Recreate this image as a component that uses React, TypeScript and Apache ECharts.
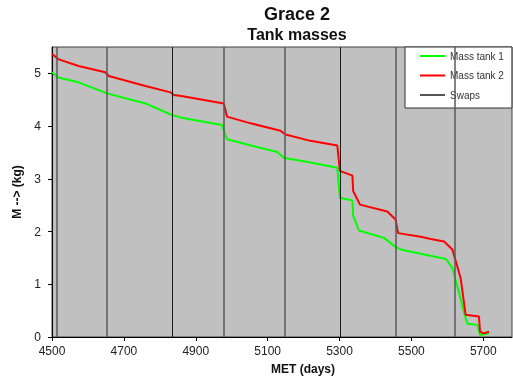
import React, { useEffect, useRef } from "react";
import * as echarts from "echarts";

const FONT = "'Liberation Sans', Arial, sans-serif";

const tank1Days = [4500, 4517, 4574, 4653, 4760, 4830, 4860, 4973, 4987, 5043, 5127, 5145, 5219, 5294, 5301, 5336, 5338, 5354, 5424, 5456, 5470, 5526, 5596, 5614, 5632, 5646, 5656, 5684, 5691, 5716];
const tank1Mass = [5.02, 4.92, 4.83, 4.62, 4.43, 4.22, 4.16, 4.02, 3.75, 3.65, 3.51, 3.4, 3.31, 3.21, 2.64, 2.59, 2.3, 2.02, 1.88, 1.71, 1.66, 1.58, 1.48, 1.31, 0.86, 0.48, 0.25, 0.23, 0.04, 0.07];

const tank2Days = [4500, 4517, 4574, 4648, 4658, 4760, 4830, 4839, 4860, 4978, 4987, 5043, 5136, 5150, 5219, 5294, 5301, 5336, 5338, 5357, 5433, 5456, 5463, 5526, 5554, 5591, 5614, 5637, 5651, 5688, 5691, 5702, 5716];
const tank2Mass = [5.37, 5.27, 5.14, 5.02, 4.95, 4.76, 4.64, 4.59, 4.57, 4.43, 4.18, 4.07, 3.91, 3.84, 3.72, 3.63, 3.15, 3.06, 2.77, 2.51, 2.38, 2.23, 1.97, 1.9, 1.86, 1.81, 1.66, 1.12, 0.42, 0.39, 0.1, 0.07, 0.1];

const swapDays = [4514, 4653, 4834, 4977, 5147, 5301, 5457, 5621];
const swapDark = [false, false, true, false, false, true, false, false];

export default function App() {
  const ref = useRef<HTMLDivElement>(null);
  useEffect(() => {
    if (!ref.current) return;
    const chart = echarts.init(ref.current, null, { renderer: "svg" });
    chart.setOption({
      animation: false,
      textStyle: { fontFamily: FONT },
      grid: {
        left: 52,
        right: 1,
        top: 47,
        bottom: 44,
        show: true,
        backgroundColor: "#c0c0c0",
        borderColor: "#404040",
        borderWidth: 1,
      },
      graphic: [
        {
          type: "text",
          x: 297,
          y: 13.5,
          style: { text: "Grace 2", font: `bold 18px ${FONT}`, fill: "#111", textAlign: "center", textVerticalAlign: "middle" },
        },
        {
          type: "text",
          x: 297,
          y: 34,
          style: { text: "Tank masses", font: `bold 16px ${FONT}`, fill: "#111", textAlign: "center", textVerticalAlign: "middle" },
        },
        {
          type: "text",
          x: 303,
          y: 369,
          style: { text: "MET (days)", font: `bold 12px ${FONT}`, fill: "#111", textAlign: "center", textVerticalAlign: "middle" },
        },
      ],
      legend: {
        orient: "vertical",
        left: 405,
        top: 47,
        data: [
          { name: "Mass tank 1" },
          { name: "Mass tank 2" },
          { name: "Swaps", itemStyle: { color: "#555" } },
        ],
        icon: "rect",
        backgroundColor: "#ffffff",
        borderColor: "#333",
        borderWidth: 1,
        borderRadius: 0,
        padding: [3, 8, 7, 15],
        itemGap: 7.5,
        itemWidth: 25,
        itemHeight: 2,
        textStyle: { fontSize: 10, color: "#333", fontFamily: FONT, lineHeight: 12 },
      },
      xAxis: {
        type: "value",
        min: 4500,
        max: 5780,
        interval: 200,
        splitLine: { show: false },
        axisLine: { lineStyle: { color: "#000", width: 1 } },
        axisTick: { show: true, length: 4, lineStyle: { color: "#000" } },
        axisLabel: {
          fontSize: 12,
          color: "#222",
          margin: 8,
          showMaxLabel: false,
          fontFamily: FONT,
          formatter: (v: number) => String(v),
        },
      },
      yAxis: {
        type: "value",
        min: 0,
        max: 5.5,
        interval: 1,
        name: "M --> (kg)",
        nameLocation: "middle",
        nameGap: 26,
        nameRotate: 90,
        nameTextStyle: { fontSize: 12, fontWeight: "bold", color: "#111", fontFamily: FONT },
        splitLine: { show: false },
        axisLine: { show: true, lineStyle: { color: "#000", width: 1 } },
        axisTick: { show: true, length: 4, lineStyle: { color: "#000" } },
        axisLabel: { fontSize: 12, color: "#222", margin: 11, showMaxLabel: false, fontFamily: FONT },
      },
      series: [
        {
          name: "Swaps",
          type: "line",
          data: [],
          color: "#555",
          lineStyle: { color: "#555", width: 1 },
          symbol: "none",
          markLine: {
            silent: true,
            symbol: ["none", "none"],
            label: { show: false },
            lineStyle: { type: "solid", width: 1, color: "#222" },
            data: swapDays.map((d, i) => ({
              xAxis: d,
              lineStyle: swapDark[i]
                ? { type: "solid", width: 1, color: "#1a1a1a" }
                : { type: "solid", width: 1.5, color: "#5a5a5a" },
            })),
          },
        },
        {
          name: "Mass tank 1",
          type: "line",
          data: tank1Days.map((d, i) => [d, tank1Mass[i]]),
          color: "#00ff00",
          lineStyle: { color: "#00ff00", width: 2 },
          symbol: "none",
          showSymbol: false,
        },
        {
          name: "Mass tank 2",
          type: "line",
          data: tank2Days.map((d, i) => [d, tank2Mass[i]]),
          color: "#ff0000",
          lineStyle: { color: "#ff0000", width: 2 },
          symbol: "none",
          showSymbol: false,
        },
      ],
    });
    return () => chart.dispose();
  }, []);
  return <div ref={ref} style={{ position: "fixed", left: 0, top: 0, width: 513, height: 381 }} />;
}
